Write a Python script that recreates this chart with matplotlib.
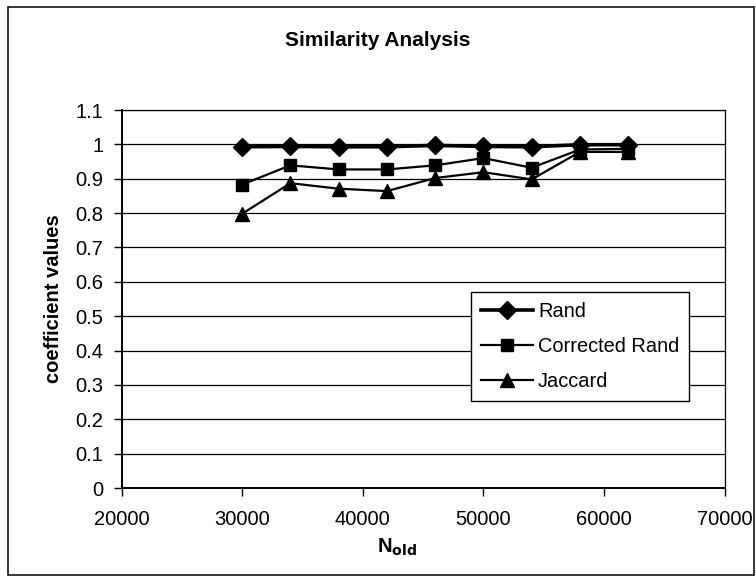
import matplotlib
matplotlib.use("Agg")
import matplotlib.pyplot as plt
from matplotlib.patches import Rectangle

# Sample sizes and similarity coefficients
n_old = [30000, 34000, 38000, 42000, 46000, 50000, 54000, 58000, 62000]
rand = [0.993, 0.994, 0.993, 0.993, 0.997, 0.994, 0.993, 0.999, 0.999]
corrected_rand = [0.883, 0.939, 0.927, 0.927, 0.939, 0.960, 0.932, 0.985, 0.987]
jaccard = [0.798, 0.887, 0.871, 0.864, 0.902, 0.919, 0.898, 0.978, 0.978]

x_ticks = [20000, 30000, 40000, 50000, 60000, 70000]
y_ticks = [0, 0.1, 0.2, 0.3, 0.4, 0.5, 0.6, 0.7, 0.8, 0.9, 1, 1.1]
y_tick_labels = ["0", "0.1", "0.2", "0.3", "0.4", "0.5", "0.6", "0.7", "0.8", "0.9", "1", "1.1"]

plt.rcParams["font.family"] = ["Liberation Sans", "DejaVu Sans"]

W, H = 756, 584
fig = plt.figure(figsize=(W / 100, H / 100), dpi=100)

# chart border
fig.patches.append(Rectangle((8 / W, 1 - 575 / H), 746 / W, 568 / H,
                             transform=fig.transFigure, fill=False,
                             edgecolor="black", linewidth=1.1))

ax = fig.add_axes([121.5 / W, 1 - 488 / H, (724.7 - 121.5) / W, (488 - 110) / H])
ax.set_xlim(20000, 70000)
ax.set_ylim(0, 1.1)
ax.set_xticks(x_ticks)
ax.set_yticks(y_ticks)
ax.set_yticklabels(y_tick_labels)
ax.grid(axis="y", color="black", linewidth=0.9)
ax.set_axisbelow(True)
for s in ax.spines.values():
    s.set_linewidth(0.9)
ax.spines["left"].set_linewidth(1.4)
ax.spines["bottom"].set_linewidth(1.4)
ax.tick_params(direction="out", length=6, width=1.0, labelsize=14.5)
ax.tick_params(axis="x", pad=10)
ax.tick_params(axis="y", pad=7)

ax.plot(n_old, rand, color="black", linewidth=2.6, marker="D", markersize=9,
        label="Rand", clip_on=False)
ax.plot(n_old, corrected_rand, color="black", linewidth=1.6, marker="s", markersize=9,
        label="Corrected Rand", clip_on=False)
ax.plot(n_old, jaccard, color="black", linewidth=1.6, marker="^", markersize=10,
        label="Jaccard", clip_on=False)

leg = ax.legend(loc="upper left", bbox_to_anchor=((471 - 121.5) / (724.7 - 121.5), 1 - (292 - 110) / 378),
                frameon=True, fancybox=False, edgecolor="black", framealpha=1,
                fontsize=14.4, handlelength=2.6, handletextpad=0.25,
                borderpad=0.5, labelspacing=0.8, borderaxespad=0)
leg.get_frame().set_linewidth(1.0)

fig.text(378 / W, 1 - 40 / H, "Similarity Analysis", ha="center", va="center",
         fontsize=15, fontweight="bold")
fig.text(54 / W, 1 - 299 / H, "coefficient values", ha="center", va="center",
         rotation=90, fontsize=14.5, fontweight="bold")
fig.text(397 / W, 1 - 547 / H, r"N$_{\mathbf{old}}$", ha="center", va="center",
         fontsize=14.5, fontweight="bold")

fig.savefig("out.png", dpi=100)
